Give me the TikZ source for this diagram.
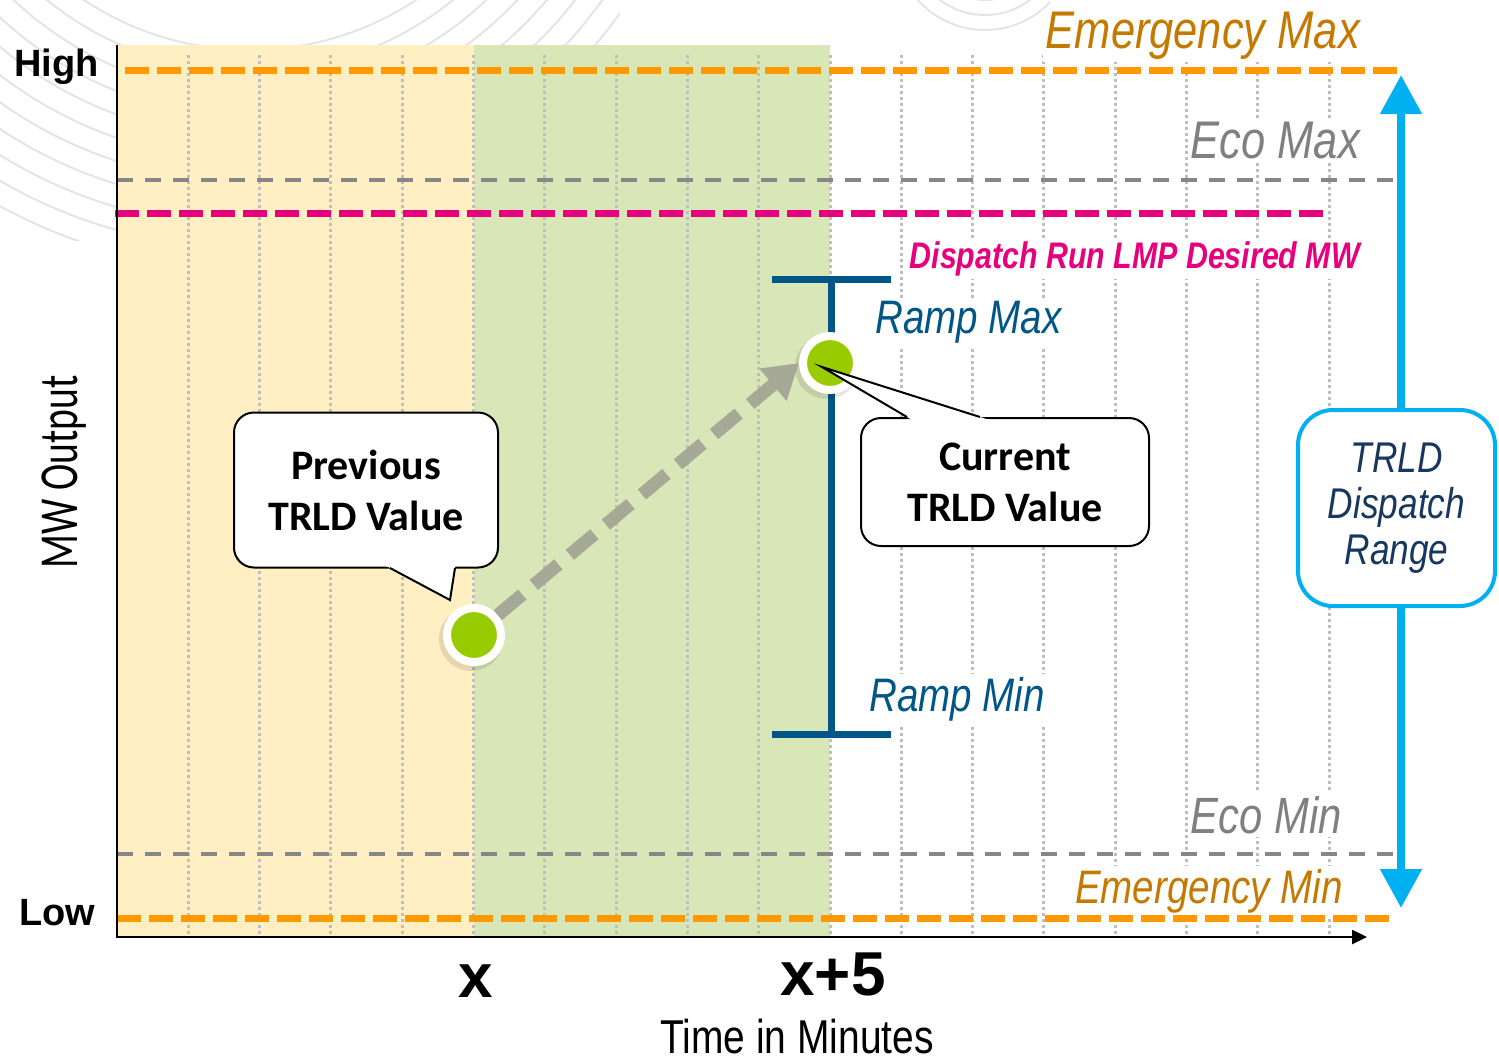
\documentclass[tikz,border=0pt]{standalone}
\usepackage{fontspec}
\setmainfont{Liberation Sans}
\newfontfamily\narrowsf[FakeStretch=0.82]{Liberation Sans}
\newfontfamily\calsf{Carlito}
\newfontfamily\calnarrow[FakeStretch=0.72]{Carlito}
\usetikzlibrary{arrows.meta}

\definecolor{bandY}{RGB}{255,239,194}
\definecolor{bandG}{RGB}{217,231,184}
\definecolor{gridgray}{RGB}{190,190,190}
\definecolor{emergline}{RGB}{255,153,0}
\definecolor{emergtext}{RGB}{196,122,0}
\definecolor{ecoline}{RGB}{135,135,135}
\definecolor{ecotext}{RGB}{128,128,128}
\definecolor{lmppink}{RGB}{230,0,126}
\definecolor{rampblue}{RGB}{0,86,135}
\definecolor{rangecyan}{RGB}{0,176,240}
\definecolor{rangetext}{RGB}{23,55,94}
\definecolor{dotgreen}{RGB}{153,204,0}
\definecolor{movegray}{RGB}{166,169,150}
\definecolor{watermark}{RGB}{228,228,228}

\newcommand\fsz[1]{\fontsize{#1}{#1}\selectfont}

\begin{document}
\begin{tikzpicture}[x=1pt,y=-1pt,
  gridline/.style={draw=gridgray, line width=3pt, dash pattern=on 3pt off 3pt},
  lbl/.style={fill=white, inner sep=3pt},
  emergdash/.style={draw=emergline, line width=7pt, dash pattern=on 24pt off 8pt},
  ecodash/.style={draw=ecoline, line width=4pt, dash pattern=on 16pt off 12pt},
  lmpdash/.style={draw=lmppink, line width=7pt, dash pattern=on 24pt off 8pt},
  rampbar/.style={draw=rampblue, line width=7pt},
  callout/.style={draw=black, line width=2pt, fill=white, rounded corners=20pt,
    align=center, font={\calsf\bfseries\fontsize{42}{51}\selectfont}},
  valuedot/.style={circle, draw=white, line width=8pt, fill=dotgreen,
    minimum size=54pt, inner sep=0pt},
  axislabel/.style={inner sep=0pt, font={\bfseries\fsz{38}}},
]
\useasboundingbox (0,0) rectangle (1499,1060);

% faint logo arcs in the corner
\begin{scope}
  \clip (0,0) rectangle (620,240);
  \foreach \r in {300,322,...,520}
    \draw[watermark, line width=2pt] (250,-250) circle[radius=\r];
\end{scope}
\begin{scope}
  \clip (850,0) rectangle (1050,40);
  \foreach \r in {60,75,90}
    \draw[watermark, line width=2pt] (985,-60) circle[radius=\r];
\end{scope}

% time bands
\fill[bandY] (117,45) rectangle (474,937);
\fill[bandG] (474,45) rectangle (830,937);

% minute grid
\foreach \i in {1,...,17}
  \draw[gridline] ({117+71.3*\i},55) -- ({117+71.3*\i},935);

% limit labels
\node[lbl, anchor=base east, text=emergtext, font={\narrowsf\itshape\fsz{53}}] (emaxlbl) at (1363,48) {Emergency Max};
\node[lbl, anchor=base east, text=ecotext, font={\narrowsf\itshape\fsz{53}}] (ecomaxlbl) at (1363,158) {Eco Max};
\node[lbl, anchor=base east, text=lmppink, font={\narrowsf\bfseries\itshape\fsz{37}}] (lmplbl) at (1363,268) {Dispatch Run LMP Desired MW};
\node[lbl, anchor=base west, text=rampblue, font={\narrowsf\itshape\fsz{47}}] (rampmaxlbl) at (872,333) {Ramp Max};
\node[lbl, anchor=base west, text=rampblue, font={\narrowsf\itshape\fsz{47}}] (rampminlbl) at (866,711) {Ramp Min};
\node[lbl, anchor=base east, text=ecotext, font={\narrowsf\itshape\fsz{51}}] (ecominlbl) at (1345,833) {Eco Min};
\node[lbl, anchor=base east, text=emergtext, font={\narrowsf\itshape\fsz{47}}] (eminlbl) at (1346,903) {Emergency Min};

% limit lines
\draw[emergdash] (125,70) -- (1397,70);
\draw[ecodash] (117,180) -- (1397,180);
\draw[lmpdash] (115,213) -- (1325,213);
\draw[ecodash] (117,854) -- (1397,854);
\draw[emergdash] (117,918) -- (1390,918);

% axes
\coordinate (ytop) at (117,45);
\coordinate (origin) at (117,937);
\coordinate (xend) at (1367,937);
\draw[line width=2.5pt, -{Triangle[length=15pt,width=14pt]}] (ytop) -- (origin) -- (xend);

\node[axislabel, anchor=base west] (high) at (14,76) {High};
\node[axislabel, anchor=base west] (low) at (19,925) {Low};
\node[inner sep=0pt, anchor=base, rotate=90, font={\calnarrow\fsz{55}}] (mwout) at (77,472) {MW Output};
\node[inner sep=0pt, anchor=base, font={\bfseries\fsz{62}}] (tx) at (476,997) {x};
\node[inner sep=0pt, anchor=base, font={\bfseries\fsz{62}}] (tx5) at (833,995) {x+5};
\node[inner sep=0pt, anchor=base, font={\narrowsf\fsz{47.5}}] (tlabel) at (797,1053) {Time in Minutes};

% ramp range bracket
\coordinate (rtop) at (831,279);
\coordinate (rbot) at (831,734);
\draw[rampbar] (rtop) -- (rbot);
\draw[rampbar] (772,279) -- (891,279);
\draw[rampbar] (772,734) -- (891,734);

% dispatch range arrow and box
\coordinate (drtop) at (1401,75);
\coordinate (drbot) at (1401,908);
\draw[rangecyan, line width=8pt,
  {Triangle[length=39pt,width=40pt]}-{Triangle[length=39pt,width=40pt]}] (drtop) -- (drbot);
\node[draw=rangecyan, line width=4pt, fill=white, rounded corners=35pt,
  minimum width=197pt, minimum height=196pt, align=center, text=rangetext,
  font={\narrowsf\itshape\fontsize{43}{46}\selectfont}] (range) at (1396.5,508)
  {TRLD\\Dispatch\\Range};

% value points
\coordinate (pdotc) at (474,635);
\coordinate (cdotc) at (830,363);
\fill[black, opacity=0.1] ([shift={(-3,4)}]pdotc) circle[radius=32];
\fill[black, opacity=0.1] ([shift={(-3,4)}]cdotc) circle[radius=32];
\node[valuedot] (pdot) at (pdotc) {};
\draw[movegray, line width=13pt, dash pattern=on 32pt off 15pt,
  -{Triangle[length=34pt,width=40pt]}] (pdot) -- (cdotc -| 799,0);
\node[valuedot] (cdot) at (cdotc) {};

% callouts
\node[callout, minimum width=264pt, minimum height=155pt] (prevbox) at (366,490) {Previous\\TRLD Value};
\fill[white] (384.4,565) -- (455.5,565) -- (450,600) -- cycle;
\draw[line width=2pt] (390,568) -- (450,600) -- (455,568);

\node[callout, minimum width=288pt, minimum height=128pt] (curbox) at (1005,482) {Current\\TRLD Value};
\fill[white] (822,367) -- (912.1,420) -- (989.5,420) -- cycle;
\draw[line width=2pt] (907,417) -- (822,367) -- (980,417);
\end{tikzpicture}
\end{document}
